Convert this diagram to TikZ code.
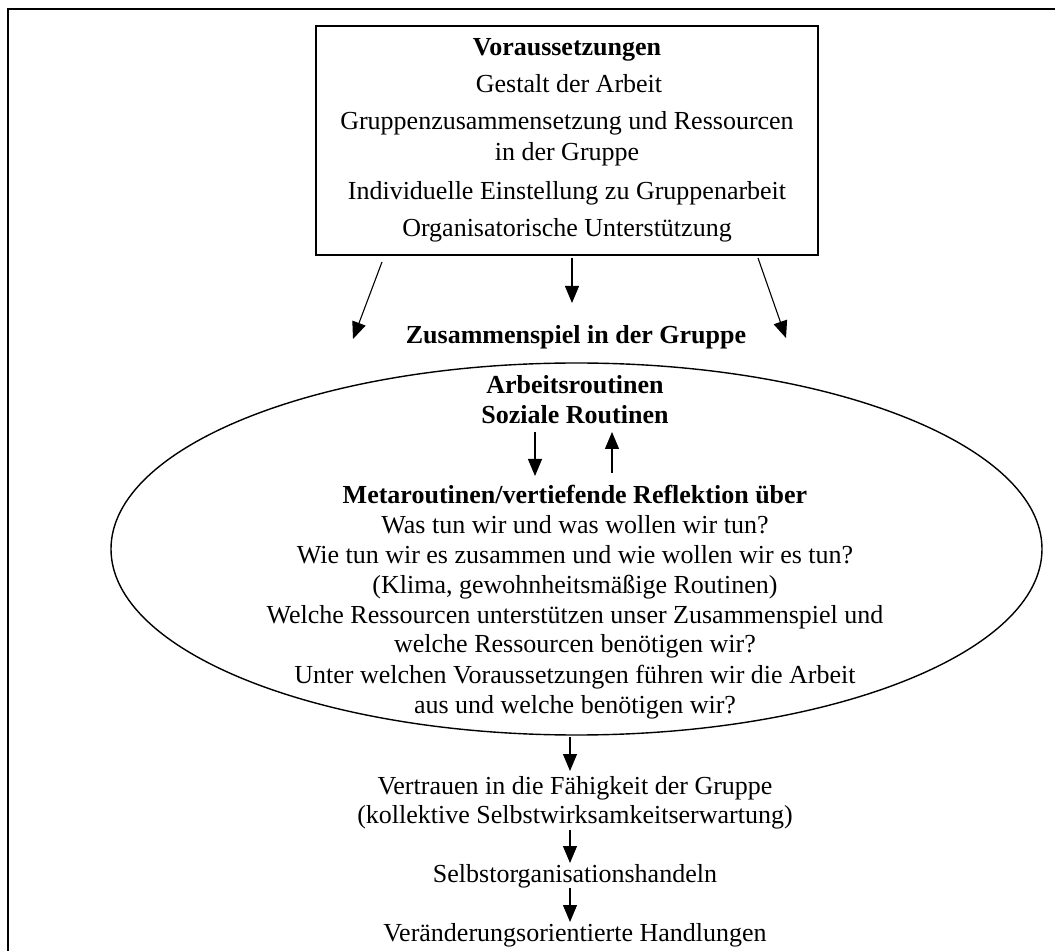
\documentclass[tikz,border=0pt]{standalone}
\usepackage{fontspec}
\setmainfont{Liberation Serif}
\usetikzlibrary{arrows.meta,shapes.geometric}
\begin{document}
\begin{tikzpicture}[x=0.5pt,y=-0.5pt,
  txt/.style={anchor=base,inner sep=0pt,font=\fontsize{13pt}{15pt}\selectfont},
  btxt/.style={anchor=base,inner sep=0pt,font=\fontsize{13pt}{15pt}\selectfont\bfseries},
  arr/.style={line width=0.55pt,-{Triangle[length=8.5pt,width=7pt]}}]
\useasboundingbox (0,0) rectangle (1055,951);
% frame
\draw[line width=1.1pt] (8,951) -- (8,9) -- (1055,9);
% top box
\node[draw,line width=0.8pt,inner sep=0pt,minimum width=251pt,minimum height=114.5pt] (box) at (567,140.5) {};
\node[btxt] (t1) at (567,56) {Voraussetzungen};
\node[txt] (t2) at (569,93) {Gestalt der Arbeit};
\node[txt] (t3) at (567,130) {Gruppenzusammensetzung und Ressourcen};
\node[txt] (t4) at (567,161) {in der Gruppe};
\node[txt] (t5) at (567,200) {Individuelle Einstellung zu Gruppenarbeit};
\node[txt] (t6) at (567,237) {Organisatorische Unterstützung};
% arrows from box
\coordinate (la) at (382,262); \coordinate (lb) at (353,339);
\coordinate (ma) at (572,258); \coordinate (mb) at (572,303);
\coordinate (ra) at (758,258); \coordinate (rb) at (786,338);
\draw[arr] (la) -- (lb);
\draw[arr] (ma) -- (mb);
\draw[arr] (ra) -- (rb);
\node[btxt] (zus) at (576,344) {Zusammenspiel in der Gruppe};
% ellipse
\node[draw,ellipse,line width=0.7pt,inner sep=0pt,minimum width=465.5pt,minimum height=186pt] (ell) at (576.5,549) {};
\node[btxt] (e1) at (575,394) {Arbeitsroutinen};
\node[btxt] (e2) at (575,424) {Soziale Routinen};
\coordinate (da) at (535,432); \coordinate (db) at (535,476);
\coordinate (ua) at (612,473); \coordinate (ub) at (612,432);
\draw[arr] (da) -- (db);
\draw[arr] (ua) -- (ub);
\node[btxt] (m0) at (575,504) {Metaroutinen/vertiefende Reflektion über};
\node[txt] (m1) at (575,534) {Was tun wir und was wollen wir tun?};
\node[txt] (m2) at (575,564) {Wie tun wir es zusammen und wie wollen wir es tun?};
\node[txt] (m3) at (575,594) {(Klima, gewohnheitsmäßige Routinen)};
\node[txt] (m4) at (575,624) {Welche Ressourcen unterstützen unser Zusammenspiel und};
\node[txt] (m5) at (575,653) {welche Ressourcen benötigen wir?};
\node[txt] (m6) at (575,683) {Unter welchen Voraussetzungen führen wir die Arbeit};
\node[txt] (m7) at (575,713) {aus und welche benötigen wir?};
% lower chain
\coordinate (b1a) at (570,737); \coordinate (b1b) at (570,771);
\node[txt] (v1) at (575,794) {Vertrauen in die Fähigkeit der Gruppe};
\node[txt] (v2) at (575,823) {(kollektive Selbstwirksamkeitserwartung)};
\coordinate (b2a) at (570,830); \coordinate (b2b) at (570,863);
\node[txt] (s1) at (575,882) {Selbstorganisationshandeln};
\coordinate (b3a) at (570,888); \coordinate (b3b) at (570,922);
\node[txt] (h1) at (575,941) {Veränderungsorientierte Handlungen};
\draw[arr] (b1a) -- (b1b);
\draw[arr] (b2a) -- (b2b);
\draw[arr] (b3a) -- (b3b);
\end{tikzpicture}
\end{document}
